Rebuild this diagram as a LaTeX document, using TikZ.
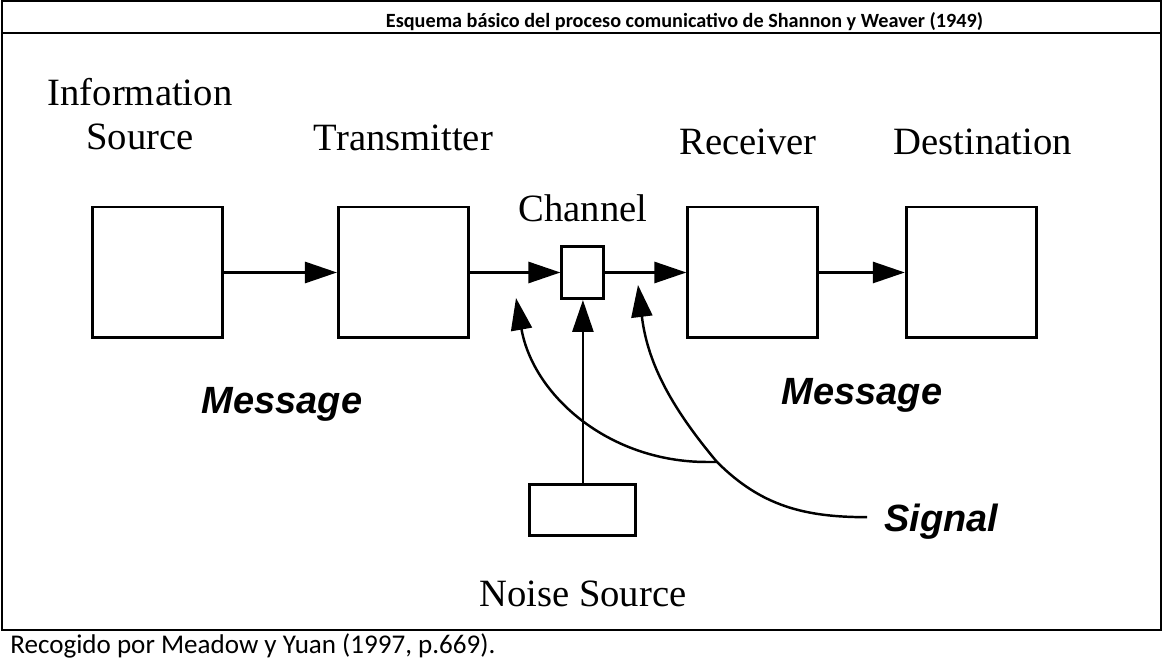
\documentclass[tikz,border=0pt]{standalone}
\usepackage{fontspec}
\setmainfont{Liberation Serif}
\setsansfont{Liberation Sans}
\newfontfamily\tablefont{Carlito}
\usetikzlibrary{arrows.meta,positioning}

\begin{document}
\begin{tikzpicture}[%
    x=0.02cm, y=0.02cm,
    >={Triangle[length=0.64cm,width=0.42cm]},
    on grid,
    block/.style={draw, line width=1.7pt, inner sep=0pt, minimum width=2.6cm, minimum height=2.62cm},
    boxtext/.style={font=\fontsize{22}{25}\selectfont, align=center, inner sep=0pt},
    msgtext/.style={font=\fontsize{21.6}{24}\selectfont\sffamily\bfseries\itshape, inner sep=0pt},
    flow/.style={->, line width=1.6pt},
    sig/.style={->, line width=1.4pt},
    frame/.style={line width=1.2pt}]
    \useasboundingbox (0,0) rectangle (1163,662);

    \draw[frame] (2,32) rectangle (1161,661);
    \draw[frame] (2,629) -- (1161,629);
    \node[font=\tablefont\bfseries\fontsize{11.5}{13}\selectfont, anchor=base] (title) at (684.5,634)
        {Esquema básico del proceso comunicativo de Shannon y Weaver (1949)};
    \node[font=\tablefont\fontsize{15.4}{18}\selectfont, anchor=base west, inner sep=0pt] (source-note) at (10,8)
        {Recogido por Meadow y Yuan (1997, p.669).};

    \node[block] (source) at (157.5,389.5) {};
    \node[block] (transmitter) [right=4.92cm of source] {};
    \node[block, minimum width=0.84cm, minimum height=1.04cm] (channel) [right=3.59cm of transmitter] {};
    \node[block] (receiver) [right=3.4cm of channel] {};
    \node[block] (destination) [right=4.37cm of receiver] {};
    \node[block, minimum width=2.12cm, minimum height=1.02cm] (noise) [below=4.75cm of channel] {};

    \node[boxtext, above=1.1cm of source.north, xshift=-0.35cm, anchor=south] (source-name) {Information\\Source};
    \node[boxtext, above=1.08cm of transmitter.north, anchor=south] (transmitter-name) {Transmitter};
    \node[boxtext, above=0.46cm of channel.north, anchor=south] (channel-name) {Channel};
    \node[boxtext, above=1.0cm of receiver.north, xshift=-0.1cm, anchor=south] (receiver-name) {Receiver};
    \node[boxtext, above=1.0cm of destination.north, xshift=0.23cm, anchor=south] (destination-name) {Destination};
    \node[boxtext, below=1.4cm of noise.south, anchor=base] (noise-name) {Noise Source};

    \node[msgtext, anchor=base] (message-left) at (282,248) {Message};
    \node[msgtext, anchor=base] (message-right) at (862,257) {Message};
    \node[msgtext, anchor=base west] (signal) at (884,130) {Signal};

    \coordinate (split) at (717,200);
    \coordinate (tip-left) at (516,364);
    \coordinate (tip-right) at (638,377);

    \path[flow]
              (source) edge (transmitter)
              (transmitter) edge (channel)
              (channel) edge (receiver)
              (receiver) edge (destination)
              (noise) edge (channel);

    \draw[sig] ([xshift=-0.34cm, yshift=0.1cm]signal.west) to[out=180, in=-45] (split)
               to[out=130, in=-83] (tip-right);
    \draw[sig] (split) -- ++(-10,0) to[out=180, in=-80] (tip-left);
\end{tikzpicture}
\end{document}
